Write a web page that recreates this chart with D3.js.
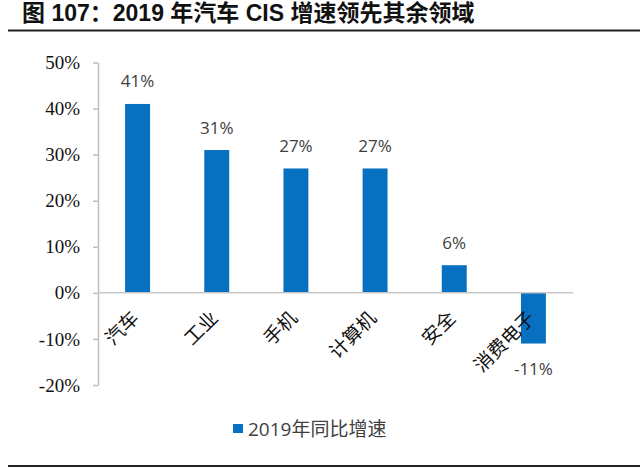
<!DOCTYPE html>
<html><head><meta charset="utf-8">
<script src="https://cdn.jsdelivr.net/npm/d3@7"></script>
<style>body{margin:0;background:#fff;}svg{display:block;}</style>
</head><body>
<svg id="c" width="640" height="469"></svg>
<script>
const categories = ["汽车","工业","手机","计算机","安全","消费电子"];
const values = [41, 31, 27, 27, 6, -11];
const yTicks = [-20, -10, 0, 10, 20, 30, 40, 50];
const seriesName = "2019年同比增速";
const title = "图 107：2019 年汽车 CIS 增速领先其余领域";

const svg = d3.select("#c");
const barColor = "#0870C0";

// title
svg.append("text").attr("x", 22).attr("y", 21)
  .style("font-family", "'Liberation Sans','Noto Sans CJK SC',sans-serif")
  .attr("font-weight", "bold").attr("font-size", 23).attr("fill", "#111")
  .text(title);
svg.append("line").attr("x1", 8).attr("x2", 640).attr("y1", 30.5).attr("y2", 30.5)
  .attr("stroke", "#222").attr("stroke-width", 2);
svg.append("line").attr("x1", 8).attr("x2", 640).attr("y1", 466).attr("y2", 466)
  .attr("stroke", "#222").attr("stroke-width", 2);

const x = d3.scaleBand().domain(categories).range([98, 573]).paddingInner(0.685).paddingOuter(0.3425);
const y = d3.scaleLinear().domain([-20, 50]).range([385, 62.5]);

// y axis
const yAxis = d3.axisLeft(y).tickValues(yTicks).tickFormat(d => d + "%").tickSize(5).tickSizeOuter(0).tickPadding(13);
const gy = svg.append("g").attr("transform", "translate(98,0)").call(yAxis)
  .attr("font-family", "'Liberation Serif','Times New Roman',serif").attr("font-size", 19);
gy.select(".domain").attr("stroke", "#BFBFBF").attr("stroke-width", 1.5);
gy.selectAll(".tick line").attr("stroke", "#BFBFBF").attr("stroke-width", 1.5);
gy.selectAll(".tick text").attr("fill", "#111");

// bars
svg.append("g").selectAll("rect").data(values).join("rect")
  .attr("x", (d, i) => x(categories[i]))
  .attr("width", x.bandwidth())
  .attr("y", d => y(Math.max(0, d)))
  .attr("height", d => Math.abs(y(d) - y(0)))
  .attr("fill", barColor);

// zero line
svg.append("line").attr("x1", 98).attr("x2", 573).attr("y1", y(0)).attr("y2", y(0))
  .attr("stroke", "#C8C8C8").attr("stroke-width", 1.5);

// value labels
svg.append("g").selectAll("text").data(values).join("text")
  .attr("x", (d, i) => x(categories[i]) + x.bandwidth() / 2)
  .attr("y", d => d >= 0 ? y(d) - 16.5 : y(d) + 31)
  .attr("text-anchor", "middle")
  .style("font-family", "'Open Sans','Noto Sans',sans-serif")
  .attr("font-size", 17).attr("fill", "#404040")
  .text(d => d + "%");

// category labels
svg.append("g").selectAll("text").data(categories).join("text")
  .attr("transform", d => `translate(${x(d) + x.bandwidth() / 2 - 9},308) rotate(-45)`)
  .attr("text-anchor", "end").attr("dy", "0.85em")
  .style("font-family", "'Noto Sans CJK SC',sans-serif")
  .attr("font-size", 19).attr("fill", "#111")
  .text(d => d);

// legend
svg.append("rect").attr("x", 233).attr("y", 424).attr("width", 10).attr("height", 9).attr("fill", barColor);
svg.append("text").attr("x", 248).attr("y", 436)
  .style("font-family", "'Open Sans','Noto Sans CJK SC',sans-serif")
  .attr("font-size", 19).attr("fill", "#404040")
  .text(seriesName);
</script>
</body></html>
